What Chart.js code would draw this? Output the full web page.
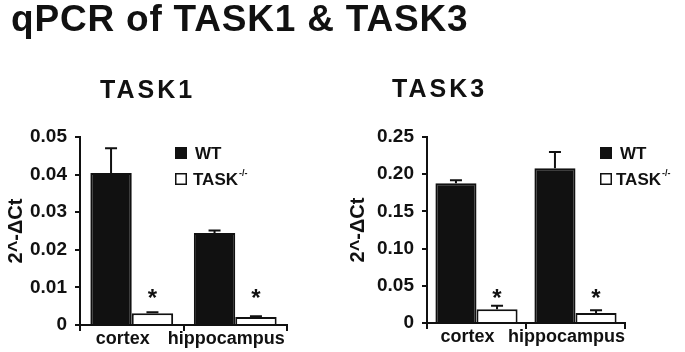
<!DOCTYPE html>
<html>
<head>
<meta charset="utf-8">
<script src="https://cdn.jsdelivr.net/npm/chart.js@4/dist/chart.umd.min.js"></script>
<style>
  html, body { margin: 0; padding: 0; background: #fff; }
  body { width: 685px; height: 352px; position: relative; overflow: hidden;
         font-family: "Liberation Sans", Arial, sans-serif; color: #111; }
  .title { position: absolute; left: 11px; top: 0; font-size: 37px; line-height: 37px;
           font-weight: bold; letter-spacing: 0.8px; white-space: nowrap; }
  .sub { position: absolute; font-size: 25px; line-height: 25px; font-weight: bold;
         letter-spacing: 3px; white-space: nowrap; }
  canvas { position: absolute; top: 0; }
</style>
</head>
<body>
<canvas id="task1Chart" width="340" height="352" style="left:0"></canvas>
<canvas id="task3Chart" width="345" height="352" style="left:340px"></canvas>
<div class="title">qPCR of TASK1 &amp; TASK3</div>
<div class="sub" style="left:100px;top:77px">TASK1</div>
<div class="sub" style="left:392px;top:76px">TASK3</div>

<script>
// ---------- Data ----------
const regions = ['cortex', 'hippocampus'];
const groupNames = ['WT', 'TASK'];
const groupSup = ['', '-/-'];

const task1WT = [0.0404, 0.0245];
const task1WTErr = [0.0066, 0.0006];
const task1KO = [0.0031, 0.0021];
const task1KOErr = [0.0003, 0.0002];
const task1Stars = [true, true];
const task1Ticks = [0, 0.01, 0.02, 0.03, 0.04, 0.05];

const task3WT = [0.188, 0.208];
const task3WTErr = [0.004, 0.022];
const task3KO = [0.0186, 0.0135];
const task3KOErr = [0.0045, 0.0035];
const task3Stars = [true, true];
const task3Ticks = [0, 0.05, 0.10, 0.15, 0.20, 0.25];

const yTitle = '2^-\u0394Ct';

// ---------- Style ----------
const INK = '#111';
const FONT = '"Liberation Sans", Arial, sans-serif';

// ---------- Plugin: error bars, stars, legend ----------
const barExtras = {
  id: 'barExtras',
  afterDatasetsDraw(chart, args, opts) {
    const ctx = chart.ctx;
    const y = chart.scales.y;
    ctx.save();
    ctx.strokeStyle = INK;
    ctx.fillStyle = INK;
    ctx.lineWidth = 2;
    chart.data.datasets.forEach((ds, i) => {
      chart.getDatasetMeta(i).data.forEach((bar, j) => {
        const top = y.getPixelForValue(ds.data[j]);
        const end = y.getPixelForValue(ds.data[j] + ds.errors[j]);
        ctx.beginPath();
        ctx.moveTo(bar.x, top);
        ctx.lineTo(bar.x, end);
        ctx.moveTo(bar.x - 6, end);
        ctx.lineTo(bar.x + 6, end);
        ctx.stroke();
        if (ds.stars && ds.stars[j]) {
          ctx.font = 'bold 24px ' + FONT;
          ctx.textAlign = 'center';
          ctx.textBaseline = 'alphabetic';
          ctx.fillText('*', bar.x, y.getPixelForValue(opts.starLevel) + 13);
        }
      });
    });

    // legend
    const area = chart.chartArea;
    chart.data.datasets.forEach((ds, i) => {
      const sx = area.left + opts.legendX;
      const cy = opts.legendY + i * 26;
      if (i === 0) {
        ctx.fillRect(sx, cy - 6, 12, 12);
      } else {
        ctx.fillStyle = '#fff';
        ctx.fillRect(sx, cy - 6, 12, 12);
        ctx.fillStyle = INK;
        ctx.lineWidth = 1.5;
        ctx.strokeRect(sx + 0.75, cy - 5.25, 10.5, 10.5);
      }
      ctx.font = 'bold 17px ' + FONT;
      ctx.textAlign = 'left';
      ctx.textBaseline = 'middle';
      const tx = sx + 12 + opts.textGap[i];
      ctx.fillText(ds.label, tx, cy + 1);
      if (groupSup[i]) {
        const w = ctx.measureText(ds.label).width;
        ctx.font = 'bold 9px ' + FONT;
        ctx.fillText(groupSup[i], tx + w + 1, cy - 5);
      }
    });
    ctx.restore();
  }
};

// ---------- Chart builder ----------
function makeChart(id, wt, wtErr, ko, koErr, stars, ticks, cfg) {
  return new Chart(document.getElementById(id), {
    type: 'bar',
    data: {
      labels: regions,
      datasets: [
        { label: groupNames[0], data: wt, errors: wtErr,
          backgroundColor: INK, borderColor: INK, borderWidth: 2,
          barPercentage: 1, categoryPercentage: cfg.catPct },
        { label: groupNames[1], data: ko, errors: koErr, stars: stars,
          backgroundColor: '#fff', borderColor: INK, borderWidth: 2,
          barPercentage: 1, categoryPercentage: cfg.catPct }
      ]
    },
    options: {
      responsive: false,
      animation: false,
      layout: { padding: { top: 137, right: cfg.padRight, bottom: 0, left: 0 } },
      plugins: {
        legend: { display: false },
        tooltip: { enabled: false },
        barExtras: {
          starLevel: cfg.starLevel,
          legendX: cfg.legendX,
          legendY: 153,
          textGap: cfg.textGap
        }
      },
      scales: {
        x: {
          grid: { drawOnChartArea: false, drawTicks: true, tickLength: 6, color: INK, lineWidth: 2, offset: true },
          border: { display: true, color: INK, width: 2 },
          ticks: { color: INK, font: { family: FONT, size: 18, weight: 'bold' },
                   padding: -3, labelOffset: -9, maxRotation: 0, autoSkip: false },
          afterFit: s => { s.height = cfg.xHeight; }
        },
        y: {
          min: ticks[0],
          max: ticks[ticks.length - 1],
          afterBuildTicks: s => { s.ticks = ticks.map(v => ({ value: v })); },
          ticks: { color: INK, font: { family: FONT, size: 19, weight: 'bold' }, padding: 8,
                   callback: v => v === 0 ? '0' : v.toFixed(2) },
          grid: { drawOnChartArea: false, tickLength: 5, color: INK, lineWidth: 2 },
          border: { display: true, color: INK, width: 2 },
          title: { display: true, text: yTitle, color: INK,
                   font: { family: FONT, size: 20, weight: 'bold' },
                   padding: { top: cfg.titlePad, bottom: 0 } },
          afterFit: s => { s.width = cfg.yWidth; }
        }
      }
    },
    plugins: [barExtras]
  });
}

makeChart('task1Chart', task1WT, task1WTErr, task1KO, task1KOErr, task1Stars, task1Ticks, {
  catPct: 0.80, padRight: 53, xHeight: 27, yWidth: 80, titlePad: 4,
  starLevel: 0.0085, legendX: 95, textGap: [8, 6]
});

makeChart('task3Chart', task3WT, task3WTErr, task3KO, task3KOErr, task3Stars, task3Ticks, {
  catPct: 0.83, padRight: 60, xHeight: 29, yWidth: 87, titlePad: 6,
  starLevel: 0.0403, legendX: 173, textGap: [8, 4]
});
</script>
</body>
</html>
